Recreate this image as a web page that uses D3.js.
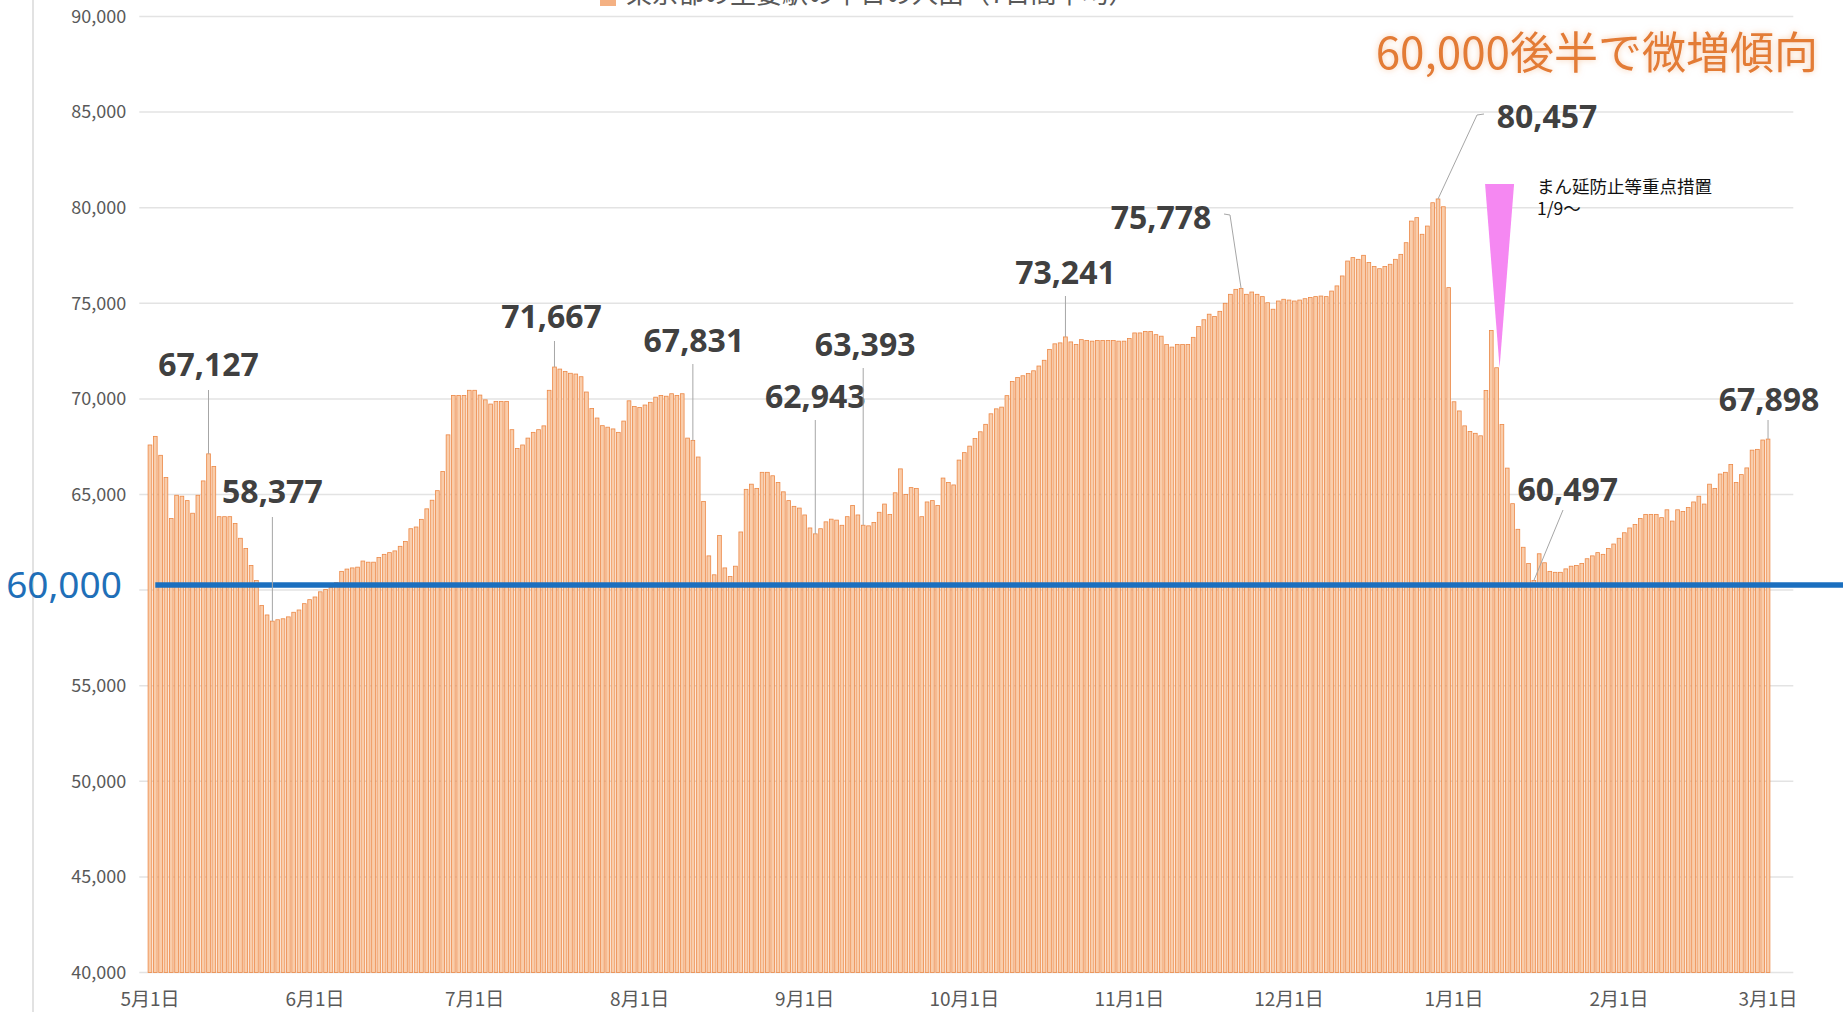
<!DOCTYPE html>
<html>
<head>
<meta charset="utf-8">
<script src="https://cdn.jsdelivr.net/npm/d3@7"></script>
<style>
  body { margin: 0; background: #fff; }
  text { font-family: "Noto Sans CJK JP", "Noto Sans", sans-serif; }
</style>
</head>
<body>
<div id="chart-area"></div>
<script>
// valores diarios, um array por mes (5月 -> 3月)
const may = [67590, 68040, 67050, 65890, 63750, 64960, 64910, 64680, 64020, 64960, 65710, 67127, 66460, 63840, 63840, 63840, 63480, 62710, 62180, 61290, 60500, 59200, 58700, 58377, 58450, 58500, 58600, 58840, 58960, 59290, 59500]
const jun = [59640, 59910, 60030, 60140, 60390, 60980, 61100, 61160, 61200, 61520, 61460, 61460, 61700, 61870, 61960, 62050, 62290, 62540, 63210, 63300, 63700, 64250, 64700, 65200, 66200, 68120, 70180, 70180, 70180, 70450]
const jul = [70450, 70200, 69950, 69730, 69870, 69870, 69870, 68390, 67410, 67590, 67950, 68250, 68390, 68590, 70450, 71667, 71560, 71430, 71340, 71300, 71160, 70360, 69500, 69000, 68600, 68520, 68430, 68250, 68840, 69900, 69600]
const aug = [69550, 69680, 69820, 70090, 70180, 70140, 70270, 70180, 70270, 67950, 67831, 66960, 64640, 61790, 60800, 62860, 61160, 60710, 61250, 63040, 65270, 65540, 65320, 66160, 66160, 65980, 65630, 65140, 64680, 64380, 64290]
const sep = [63930, 63250, 62943, 63210, 63570, 63710, 63660, 63390, 63840, 64430, 63930, 63393, 63360, 63540, 64070, 64500, 63960, 65090, 66340, 65000, 65360, 65320, 63840, 64610, 64680, 64430, 65860, 65630, 65500, 66800]
const oct = [67190, 67530, 67930, 68280, 68670, 69220, 69480, 69570, 70170, 70910, 71120, 71210, 71330, 71470, 71720, 72020, 72590, 72880, 72930, 73241, 72980, 72840, 73100, 73050, 73020, 73050, 73050, 73050, 73050, 73020, 73020]
const nov = [73160, 73450, 73450, 73530, 73530, 73360, 73280, 72840, 72710, 72840, 72840, 72840, 73220, 73790, 74140, 74430, 74310, 74580, 75000, 75470, 75730, 75778, 75470, 75590, 75470, 75350, 75030, 74690, 75120, 75210]
const dec = [75170, 75120, 75170, 75240, 75300, 75350, 75380, 75350, 75640, 75910, 76430, 77210, 77390, 77300, 77510, 77130, 76920, 76810, 76920, 77040, 77300, 77560, 78170, 79300, 79480, 78610, 79040, 80260, 80457, 80050, 75820]
const jan = [69850, 69370, 68590, 68300, 68200, 68070, 70440, 73580, 71630, 68660, 66380, 64520, 63180, 62240, 61390, 60497, 61900, 61430, 60980, 60930, 60930, 61110, 61250, 61290, 61390, 61640, 61790, 61960, 61870, 62180, 62410]
const feb = [62710, 63000, 63250, 63430, 63750, 63960, 63960, 63960, 63790, 64200, 63610, 64200, 64110, 64320, 64610, 64910, 64500, 65540, 65320, 66070, 66160, 66570, 65630, 66040, 66390, 67320, 67360, 67850]
const mar = [67898]

const months = [5, 6, 7, 8, 9, 10, 11, 12, 1, 2, 3]
const monthValues = [may, jun, jul, aug, sep, oct, nov, dec, jan, feb, mar]

// dias com rotulo de valor (mes/dia)
const labelDays = ["5/12", "5/24", "7/16", "8/11", "9/3", "9/12", "10/20", "11/22", "12/29", "1/16", "3/1"]
const yTicks = [40000, 45000, 50000, 55000, 60000, 65000, 70000, 75000, 80000, 85000, 90000]
const baseLine = 60000
const measureDay = "1/9"

const title = "60,000後半で微増傾向"
const legendText = "東京都の主要駅の平日の人出（7日間平均）"
const noteLines = ["まん延防止等重点措置", "1/9～"]

// monta a tabela diaria
const data = []
months.forEach((m, i) => {
  monthValues[i].forEach((v, j) => data.push({ date: m + "/" + (j + 1), month: m, day: j + 1, value: v }))
})

// margens
const MARGIN = { LEFT: 147.3, TOP: 16.5 }
const WIDTH = 1623.4
const HEIGHT = 956

const svg = d3.select("#chart-area").append("svg")
  .attr("width", 1843)
  .attr("height", 1012)

const g = svg.append("g")
  .attr("transform", `translate(${MARGIN.LEFT}, ${MARGIN.TOP})`)

const x = d3.scaleBand()
  .domain(data.map(d => d.date))
  .range([0, WIDTH])
  .paddingInner(0.3)
  .paddingOuter(0.15)

const y = d3.scaleLinear()
  .domain([40000, 90000])
  .range([HEIGHT, 0])

const xc = d => x(d) + x.bandwidth() / 2

// linha cinza na esquerda
svg.append("line")
  .attr("x1", 33).attr("x2", 33)
  .attr("y1", 0).attr("y2", 1012)
  .attr("stroke", "#d9d9d9")
  .attr("stroke-width", 1.5)

// grade horizontal
g.selectAll(".grid")
  .data(yTicks)
  .enter().append("line")
  .attr("class", "grid")
  .attr("x1", -8).attr("x2", 1646)
  .attr("y1", d => y(d)).attr("y2", d => y(d))
  .attr("stroke", "#e3e3e3")
  .attr("stroke-width", 1.5)

// eixo Y (o 60,000 fica com o rotulo azul)
const yAxisCall = d3.axisLeft(y)
  .tickValues(yTicks.filter(d => d !== baseLine))
  .tickSize(0)
  .tickPadding(21)
  .tickFormat(d3.format(","))
const yAxis = g.append("g").call(yAxisCall)
yAxis.select(".domain").remove()
yAxis.selectAll("text")
  .attr("font-size", "18px")
  .attr("fill", "#595959")
  .style("font-family", "'Noto Sans CJK JP', sans-serif")

// eixo X - primeiro dia de cada mes
const xAxisCall = d3.axisBottom(x)
  .tickValues(data.filter(d => d.day === 1).map(d => d.date))
  .tickSize(0)
  .tickPadding(20)
  .tickFormat(d => d.split("/")[0] + "月1日")
const xAxis = g.append("g")
  .attr("transform", `translate(0, ${HEIGHT})`)
  .call(xAxisCall)
xAxis.select(".domain").remove()
xAxis.selectAll("text")
  .attr("font-size", "19px")
  .attr("fill", "#595959")
  .style("font-family", "'Noto Sans CJK JP', sans-serif")

// barras
g.selectAll("rect.bar")
  .data(data)
  .enter().append("rect")
  .attr("class", "bar")
  .attr("x", d => x(d.date))
  .attr("y", d => y(d.value))
  .attr("width", x.bandwidth())
  .attr("height", d => HEIGHT - y(d.value))
  .attr("fill", "#f9cdab")
  .attr("stroke", "#ec8846")
  .attr("stroke-width", 0.8)

// linha azul dos 60,000 (desenhada um pouco acima, como na figura)
const blueY = y(baseLine) - 5
g.append("line")
  .attr("x1", 8).attr("x2", 1843 - MARGIN.LEFT)
  .attr("y1", blueY).attr("y2", blueY)
  .attr("stroke", "#1b6fbf")
  .attr("stroke-width", 5.5)

svg.append("text")
  .attr("x", 64).attr("y", MARGIN.TOP + blueY + 13)
  .attr("text-anchor", "middle")
  .attr("font-size", "37px")
  .attr("fill", "#1f6fb8")
  .style("font-family", "'Noto Sans', sans-serif")
  .text(d3.format(",")(baseLine))

// rotulos de valor com linha guia
const LABEL_POS = {
  "5/12": { dx: 0, by: 376, ly: 390 },
  "5/24": { dx: 0, by: 503, ly: 517 },
  "7/16": { dx: -3, by: 328, ly: 341 },
  "8/11": { dx: 1, by: 352, ly: 364 },
  "9/3": { dx: 0, by: 408, ly: 420 },
  "9/12": { dx: 2, by: 356, ly: 368 },
  "10/20": { dx: 0, by: 284, ly: 296 },
  "11/22": { dx: -80, by: 229, ly: 215, lx: 1224, side: true },
  "12/29": { dx: 109, by: 128, ly: 115, lx: 1484, side: true },
  "1/16": { dx: 34, by: 501, ly: 510, lx: 1563 },
  "3/1": { dx: 1, by: 411, ly: 420 }
}
const labelled = data.filter(d => labelDays.includes(d.date))

labelled.forEach(d => {
  const p = LABEL_POS[d.date]
  const bx = MARGIN.LEFT + xc(d.date)
  const by = MARGIN.TOP + y(d.value)
  const pts = p.side
    ? [[p.lx, p.ly - 1], [p.lx + (p.dx < 0 ? 6 : -7), p.ly], [bx, by]]
    : [[p.lx !== undefined ? p.lx : bx, p.ly], [bx, by]]
  svg.append("path")
    .attr("d", d3.line()(pts))
    .attr("fill", "none")
    .attr("stroke", "#a6a6a6")
    .attr("stroke-width", 1)
  svg.append("text")
    .attr("x", bx + p.dx)
    .attr("y", p.by)
    .attr("text-anchor", "middle")
    .attr("font-size", "32px")
    .attr("font-weight", 700)
    .attr("fill", "#404040")
    .style("font-family", "'Noto Sans', sans-serif")
    .text(d3.format(",")(d.value))
})

// triangulo rosa - 1/9
const m = data.find(d => d.date === measureDay)
const tx = MARGIN.LEFT + xc(m.date) + 3
svg.append("path")
  .attr("d", `M${tx - 14.5},184 L${tx + 14.5},184 L${tx},${MARGIN.TOP + y(m.value)} Z`)
  .attr("fill", "#f588f2")

svg.append("text")
  .attr("font-size", "17.5px")
  .attr("fill", "#111")
  .selectAll("tspan")
  .data(noteLines)
  .enter().append("tspan")
  .attr("x", 1537)
  .attr("y", (d, i) => 193 + i * 22)
  .text(d => d)

// titulo laranja
const defs = svg.append("defs")
const glow = defs.append("filter").attr("id", "glow")
  .attr("x", "-10%").attr("y", "-30%").attr("width", "120%").attr("height", "160%")
glow.append("feDropShadow")
  .attr("dx", 0).attr("dy", 0).attr("stdDeviation", 3)
  .attr("flood-color", "#f6c29a").attr("flood-opacity", 0.8)

svg.append("text")
  .attr("x", 1818)
  .attr("y", 69)
  .attr("text-anchor", "end")
  .attr("font-size", "44px")
  .attr("fill", "#e37b36")
  .attr("filter", "url(#glow)")
  .text(title)

// legenda cortada no topo
svg.append("rect")
  .attr("x", 600).attr("y", -10)
  .attr("width", 16).attr("height", 16)
  .attr("fill", "#f4b183")
svg.append("text")
  .attr("x", 626).attr("y", 3)
  .attr("font-size", "26px")
  .attr("fill", "#595959")
  .text(legendText)
</script>
</body>
</html>
